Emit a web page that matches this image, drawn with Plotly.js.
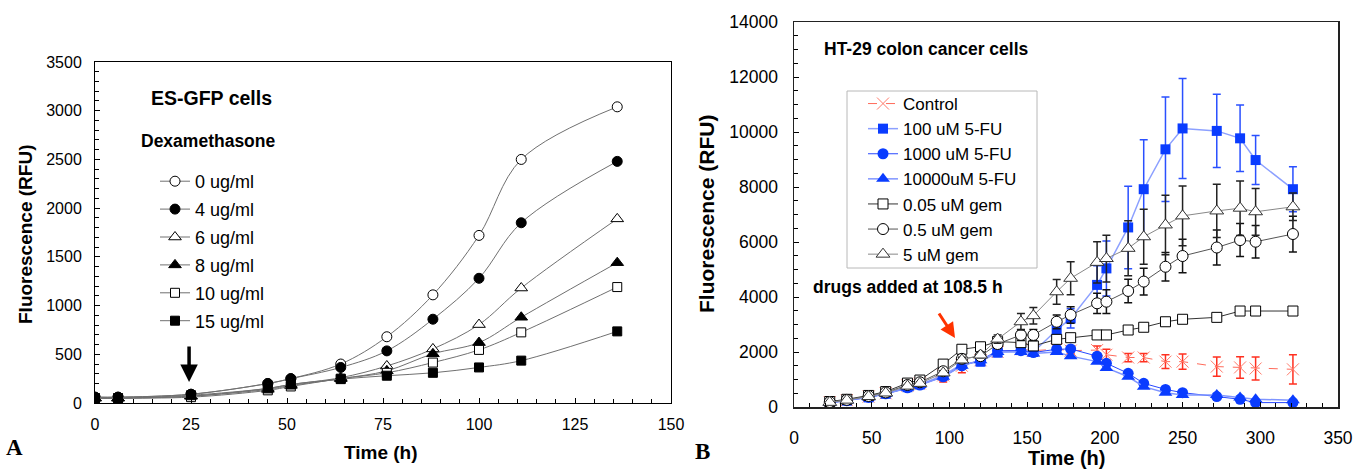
<!DOCTYPE html>
<html><head><meta charset="utf-8">
<script src="https://cdn.plot.ly/plotly-3.0.1.min.js"></script>
<style>html,body{margin:0;padding:0;background:#fff}#chart{width:1356px;height:470px}</style>
</head><body><div id="chart"></div>
<script>
// ---------- Panel A: ES-GFP cells, Dexamethasone ----------
const timeA = [0, 6, 25, 45, 51, 64, 76, 88, 100, 111, 136];
const dex0  = [60, 60, 90, 200, 250, 400, 680, 1110, 1720, 2500, 3040];
const dex4  = [60, 60, 90, 200, 250, 365, 535, 860, 1280, 1850, 2480];
const dex6  = [50, 50, 70, 150, 190, 260, 380, 555, 805, 1180, 1890];
const dex8  = [50, 50, 70, 140, 180, 250, 330, 505, 620, 880, 1440];
const dex10 = [50, 50, 60, 130, 170, 250, 310, 415, 545, 725, 1190];
const dex15 = [50, 50, 80, 150, 190, 245, 280, 310, 365, 435, 735];
const dexLabels = ['0 ug/ml', '4 ug/ml', '6 ug/ml', '8 ug/ml', '10 ug/ml', '15 ug/ml'];

// ---------- Panel B: HT-29 colon cancer cells ----------
const timeB = [23, 34, 48, 59, 73, 81, 96, 108, 120, 131, 146, 154, 169, 178, 195, 201, 215, 225, 239, 250, 272, 287, 297, 321];
const control    = [180, 250, 380, 500, 780, 860, 1150, 1500, 1700, 2000, 2100, 2050, 2100, 2050, 2070, 1900, 1800, 1800, 1650, 1650, 1470, 1440, 1400, 1370];
const controlErr = [30, 30, 40, 50, 60, 70, 240, 250, 150, 150, 100, 100, 100, 100, 150, 200, 150, 150, 250, 280, 350, 390, 420, 530];
const fu100      = [150, 230, 350, 480, 720, 820, 1150, 1560, 1650, 1980, 2070, 2000, 2800, 3220, 4440, 5040, 6530, 7920, 9370, 10130, 10040, 9770, 8980, 7920];
const fu100Err   = [30, 30, 40, 50, 60, 70, 100, 150, 150, 150, 150, 150, 250, 350, 700, 1000, 1500, 1800, 1900, 1820, 1330, 1210, 890, 820];
const fu1000     = [150, 230, 350, 480, 700, 800, 1100, 1500, 1700, 2050, 2050, 1980, 2100, 2110, 1850, 1590, 1225, 860, 640, 520, 380, 280, 160, 160];
const fu10000    = [150, 230, 350, 480, 700, 800, 1100, 1500, 1700, 2000, 2000, 1950, 2000, 1850, 1650, 1420, 1100, 740, 520, 440, 440, 350, 280, 250];
const gem005     = [200, 280, 420, 560, 870, 980, 1560, 2100, 2190, 2380, 2340, 2220, 2460, 2520, 2620, 2620, 2800, 2900, 3100, 3190, 3260, 3490, 3490, 3490];
const gem05      = [180, 260, 400, 530, 800, 900, 1300, 1750, 1850, 2290, 2620, 2620, 3100, 3350, 3770, 3830, 4220, 4560, 5100, 5490, 5800, 6070, 6010, 6290];
const gem05Err   = [20, 20, 30, 40, 50, 60, 80, 100, 100, 150, 200, 200, 250, 300, 370, 430, 430, 490, 520, 610, 640, 600, 590, 650];
const gem5       = [170, 250, 380, 510, 760, 860, 1240, 1710, 1890, 2470, 3100, 3320, 4190, 4680, 5260, 5400, 5770, 6190, 6620, 6950, 7130, 7230, 7100, 7280];
const gem5Err    = [20, 20, 30, 40, 50, 60, 80, 100, 100, 150, 300, 300, 450, 600, 750, 850, 1000, 1000, 1080, 1090, 970, 990, 850, 500];
const labelsB = ['Control', '100 uM 5-FU', '1000 uM 5-FU', '10000uM 5-FU', '0.05 uM gem', '0.5 uM gem', '5 uM gem'];

const W = 1356, H = 470;
const px = v => v / W;
const py = v => 1 - v / H;
const FONT = '"Liberation Sans", Arial, sans-serif';

// Panel A traces
const seriesA = [dex0, dex4, dex6, dex8, dex10, dex15];
const symA = ['circle', 'circle', 'triangle-up', 'triangle-up', 'square', 'square'];
const fillA = ['white', 'black', 'white', 'black', 'white', 'black'];
const sizeA = [10, 10, 11, 11, 9, 9];
const traces = seriesA.map((ys, i) => ({
  x: timeA, y: ys, name: dexLabels[i], type: 'scatter', mode: 'lines+markers',
  xaxis: 'x', yaxis: 'y', legend: 'legend', legendgroup: 'a' + i,
  line: {shape: 'spline', smoothing: 1, color: '#707070', width: 1},
  marker: {symbol: symA[i], size: sizeA[i], color: fillA[i], line: {color: 'black', width: 1}}
}));

// Panel B traces
const errB = (arr, color) => ({type: 'data', array: arr, visible: true, color: color, thickness: 1.5, width: 4});
const bDefs = [
  {y: control, line: {color: '#ff6a5a', width: 1, dash: 'dash'},
   marker: {symbol: 'x-thin', size: 12, color: '#ff7a6a', line: {color: '#ff7a6a', width: 1}}, err: errB(controlErr, '#ff3020')},
  {y: fu100, line: {color: '#8ca0ff', width: 1.5},
   marker: {symbol: 'square', size: 10, color: '#0a3cff', line: {width: 0}}, err: errB(fu100Err, '#2a50ff')},
  {y: fu1000, line: {color: '#2848ff', width: 1},
   marker: {symbol: 'circle', size: 11, color: '#0a3cff', line: {width: 0}}},
  {y: fu10000, line: {color: '#7f95ff', width: 1.5},
   marker: {symbol: 'triangle-up', size: 12, color: '#0a3cff', line: {width: 0}}},
  {y: gem005, line: {color: '#333333', width: 1},
   marker: {symbol: 'square', size: 10, color: 'white', line: {color: 'black', width: 1}}},
  {y: gem05, line: {color: '#555555', width: 1},
   marker: {symbol: 'circle', size: 11, color: 'white', line: {color: 'black', width: 1}}, err: errB(gem05Err, '#111111')},
  {y: gem5, line: {color: '#888888', width: 1},
   marker: {symbol: 'triangle-up', size: 12, color: 'white', line: {color: '#333', width: 1}}, err: errB(gem5Err, '#222222')}
];
bDefs.forEach((d, i) => {
  const t = {x: timeB, y: d.y, name: labelsB[i], type: 'scatter', mode: 'lines+markers',
    xaxis: 'x2', yaxis: 'y2', legend: 'legend2', line: d.line, marker: d.marker};
  if (d.err) t.error_y = d.err;
  traces.push(t);
});

const axisCommon = {
  showline: true, mirror: true, linecolor: 'black', linewidth: 1,
  showgrid: false, zeroline: false, ticks: 'inside', ticklen: 5, tickcolor: 'black',
  fixedrange: true, tickformat: 'd'
};
const layout = {
  width: W, height: H, margin: {l: 0, r: 0, t: 0, b: 0},
  paper_bgcolor: 'white', plot_bgcolor: 'white',
  font: {family: FONT, color: 'black'},
  showlegend: true,
  xaxis: Object.assign({}, axisCommon, {domain: [px(95), px(671)], range: [0, 150], anchor: 'y',
    dtick: 25, tick0: 0, minor: {dtick: 5, ticks: 'inside', ticklen: 4, tickcolor: 'black'},
    tickfont: {size: 16, family: FONT}, ticklabelstandoff: 7}),
  yaxis: Object.assign({}, axisCommon, {domain: [1 - 403 / H, 1 - 62 / H], range: [0, 3500], anchor: 'x',
    dtick: 500, tick0: 0, minor: {dtick: 100, ticks: 'inside', ticklen: 4, tickcolor: 'black'},
    tickfont: {size: 16, family: FONT}, ticklabelstandoff: 9}),
  xaxis2: Object.assign({}, axisCommon, {domain: [px(794), px(1338)], range: [0, 350], anchor: 'y2',
    dtick: 50, tick0: 0, minor: {dtick: 10, ticks: 'inside', ticklen: 4, tickcolor: 'black'},
    tickfont: {size: 17.5, family: FONT}, ticklabelstandoff: 14, linecolor: '#222', linewidth: 1.5}),
  yaxis2: Object.assign({}, axisCommon, {domain: [1 - 407 / H, 1 - 22 / H], range: [0, 14000], anchor: 'x2',
    dtick: 2000, tick0: 0, minor: {dtick: 500, ticks: 'inside', ticklen: 4, tickcolor: 'black'},
    tickfont: {size: 17.5, family: FONT}, ticklabelstandoff: 11, linecolor: '#222', linewidth: 1.5}),
  legend: {x: px(155), y: py(163), xanchor: 'left', yanchor: 'top', bgcolor: 'rgba(0,0,0,0)',
    borderwidth: 0, font: {size: 18, family: FONT}, tracegroupgap: 1.5, itemwidth: 30},
  legend2: {x: px(863), y: py(86), xanchor: 'left', yanchor: 'top', bgcolor: 'rgba(0,0,0,0)',
    borderwidth: 0, font: {size: 17, family: FONT}, itemwidth: 30},
  shapes: [
    {type: 'rect', xref: 'paper', yref: 'paper', x0: px(847), x1: px(1037), y0: py(268), y1: py(91),
     line: {color: '#b8b8b8', width: 1}, fillcolor: 'rgba(0,0,0,0)', layer: 'below'}
  ],
  annotations: [
    {text: '<b>ES-GFP cells</b>', x: px(211), y: py(98), xref: 'paper', yref: 'paper', showarrow: false,
     xanchor: 'center', yanchor: 'middle', font: {size: 19.5, family: FONT}},
    {text: '<b>Dexamethasone</b>', x: px(208), y: py(141), xref: 'paper', yref: 'paper', showarrow: false,
     xanchor: 'center', yanchor: 'middle', font: {size: 17.5, family: FONT}},
    {text: '<b>Fluorescence (RFU)</b>', x: px(25), y: py(235), xref: 'paper', yref: 'paper', showarrow: false,
     textangle: -90, xanchor: 'center', yanchor: 'middle', font: {size: 19, family: FONT}},
    {text: '<b>Time (h)</b>', x: px(381), y: py(452), xref: 'paper', yref: 'paper', showarrow: false,
     xanchor: 'center', yanchor: 'middle', font: {size: 19, family: FONT}},
    {text: '<b>A</b>', x: px(14), y: py(447), xref: 'paper', yref: 'paper', showarrow: false,
     xanchor: 'center', yanchor: 'middle', font: {size: 23, family: '"Liberation Serif", "Times New Roman", serif'}},
    {text: '', x: 24.5, y: 215, xref: 'x', yref: 'y', showarrow: true, ax: 0, ay: -37,
     arrowhead: 2, arrowsize: 1, arrowwidth: 3.5, arrowcolor: 'black'},
    {text: '<b>HT-29 colon cancer cells</b>', x: px(926), y: py(49), xref: 'paper', yref: 'paper', showarrow: false,
     xanchor: 'center', yanchor: 'middle', font: {size: 17.5, family: FONT}},
    {text: '<b>drugs added at 108.5 h</b>', x: px(908), y: py(287), xref: 'paper', yref: 'paper', showarrow: false,
     xanchor: 'center', yanchor: 'middle', font: {size: 17.5, family: FONT}},
    {text: '', x: 103.6, y: 2510, xref: 'x2', yref: 'y2', showarrow: true, ax: -17, ay: -26,
     arrowhead: 2, arrowsize: 1, arrowwidth: 3, arrowcolor: '#ff3300'},
    {text: '<b>Fluorescence (RFU)</b>', x: px(706), y: py(214), xref: 'paper', yref: 'paper', showarrow: false,
     textangle: -90, xanchor: 'center', yanchor: 'middle', font: {size: 21, family: FONT}},
    {text: '<b>Time (h)</b>', x: px(1066), y: py(458), xref: 'paper', yref: 'paper', showarrow: false,
     xanchor: 'center', yanchor: 'middle', font: {size: 20, family: FONT}},
    {text: '<b>B</b>', x: px(702), y: py(451), xref: 'paper', yref: 'paper', showarrow: false,
     xanchor: 'center', yanchor: 'middle', font: {size: 23, family: '"Liberation Serif", "Times New Roman", serif'}}
  ]
};

Plotly.newPlot('chart', traces, layout, {displayModeBar: false, staticPlot: true});
</script>
</body></html>
